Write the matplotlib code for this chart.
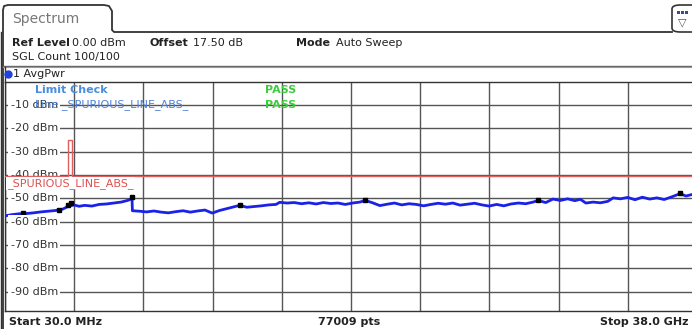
import matplotlib.pyplot as plt
import matplotlib.patches as mpatches
from matplotlib.lines import Line2D
import numpy as np

W, H = 692, 329

# Trace 1 (AvgPwr): frequency in GHz, level in dBm
trace_freq = [
    0.03, 0.4, 0.8, 1.2, 1.6, 2.0, 2.4, 2.8, 3.2, 3.5, 3.8, 4.1, 4.4, 4.8,
    5.2, 5.6, 6.0, 6.4, 6.8, 7.0, 7.02, 7.4, 7.8, 8.2, 8.6, 9.0, 9.4, 9.8,
    10.2, 10.6, 11.0, 11.4, 11.8, 12.2, 12.6, 12.9, 13.3, 13.7, 14.1, 14.5,
    14.9, 15.1, 15.5, 15.9, 16.3, 16.7, 17.1, 17.5, 17.9, 18.3, 18.7, 19.1,
    19.5, 19.8, 20.2, 20.6, 21.0, 21.4, 21.8, 22.2, 22.6, 23.0, 23.4, 23.8,
    24.2, 24.6, 25.0, 25.4, 25.8, 26.2, 26.6, 27.0, 27.4, 27.8, 28.2, 28.6,
    29.0, 29.3, 29.7, 30.1, 30.5, 30.9, 31.3, 31.6, 31.9, 32.3, 32.7, 33.1,
    33.4, 33.8, 34.2, 34.6, 35.0, 35.4, 35.8, 36.2, 36.6, 37.07, 37.4, 37.7,
    38.0,
]
trace_level = [
    -57.5, -57.0, -56.6, -56.5, -56.2, -55.8, -55.5, -55.2, -54.6, -53.4,
    -52.8, -53.4, -53.0, -53.3, -52.6, -52.4, -52.0, -51.6, -50.8, -50.0,
    -55.3, -55.5, -55.8, -55.4, -55.9, -56.2, -55.7, -55.3, -55.9, -55.4,
    -55.0, -56.3, -55.2, -54.4, -53.6, -53.0, -53.8, -53.5, -53.2, -52.8,
    -52.6, -51.7, -52.0, -51.8, -52.3, -51.9, -52.4, -51.8, -52.2, -52.0,
    -52.6, -52.0, -51.6, -50.9, -51.9, -53.1, -52.5, -52.0, -52.8, -52.3,
    -52.6, -53.2, -52.6, -52.1, -52.5, -52.0, -52.9, -52.5, -52.1, -52.8,
    -53.3, -52.6, -53.2, -52.4, -52.0, -52.3, -51.6, -50.9, -51.8, -50.3,
    -50.9, -50.2, -51.0, -50.4, -52.0, -51.6, -51.9, -51.3, -49.8, -50.2,
    -49.6, -50.6, -49.5, -50.3, -49.8, -50.5, -49.4, -48.0, -49.0, -48.4,
    -48.7,
]

# peak markers
marker_freq = [1.02, 2.99, 3.49, 3.65, 7.0, 12.9, 19.8, 29.3, 37.07]
marker_level = [-56.1, -55.1, -53.0, -52.1, -49.6, -53.0, -50.9, -50.9, -47.9]

# limit line _SPURIOUS_LINE_ABS_
limit_freq = [0.03, 3.47, 3.47, 3.72, 3.72, 38.0]
limit_level = [-40.3, -40.3, -25.2, -25.2, -40.3, -40.3]

level_ticks = [-10, -20, -30, -40, -50, -60, -70, -80, -90]
freq_start, freq_stop = 0.03, 38.0
level_bottom, level_top = -98.2, 0.0

plt.rcParams['font.family'] = ['DejaVu Sans']

fig = plt.figure(figsize=(W / 100, H / 100), dpi=100)
fig.patch.set_facecolor('white')


def fx(x):
    return x / W


def fy(y):
    return 1 - y / H


def ftext(x, y, s, **kw):
    kw.setdefault('va', 'center')
    kw.setdefault('ha', 'left')
    kw.setdefault('fontsize', 8)
    kw.setdefault('color', '#222222')
    fig.text(fx(x), fy(y), s, **kw)


def fline(xs, ys, **kw):
    fig.add_artist(Line2D([fx(v) for v in xs], [fy(v) for v in ys],
                          transform=fig.transFigure, **kw))


# plot area
ax_top, ax_bot = 81.5, 311
ax = fig.add_axes([fx(5), fy(ax_bot), 692 / W, (ax_bot - ax_top) / H])
ax.set_xlim(freq_start, freq_stop)
ax.set_ylim(level_bottom, level_top)
ax.set_xticks(np.linspace(freq_start, freq_stop, 11))
ax.set_yticks(level_ticks)
ax.grid(True, color='#555555', linewidth=1.0)
ax.tick_params(length=0, labelleft=False, labelbottom=False)
for sp in ax.spines.values():
    sp.set_color('#333333')
    sp.set_linewidth(1.0)

ax.plot(limit_freq, limit_level, color='#e06060', linewidth=1.0, zorder=6.5)
ax.plot(trace_freq, trace_level, color='#1a22e8', linewidth=2.0, zorder=4)
ax.plot(marker_freq, marker_level, linestyle='none', marker='s',
        markersize=3.2, color='black', zorder=5)

ytr = ax.get_yaxis_transform()
for lvl in level_ticks:
    ax.text(0.008, lvl, f"{lvl} dBm", transform=ytr, fontsize=8,
            color='#333333', va='center', ha='left', zorder=6,
            bbox=dict(facecolor='white', edgecolor='none', pad=1.5))

ax.text(0.003, -43.6, "_SPURIOUS_LINE_ABS_", transform=ytr, fontsize=8,
        color='#e05050', va='center', ha='left', zorder=7,
        bbox=dict(facecolor='white', edgecolor='none', pad=1.0))

ax.text(0.043, -3.5, "Limit Check", transform=ytr, fontsize=8,
        fontweight='bold', color='#4a8ee0', va='center', zorder=7)
ax.text(0.375, -3.5, "PASS", transform=ytr, fontsize=8,
        fontweight='bold', color='#3ccc3c', va='center', zorder=7)
ax.text(0.043, -10, "Line _SPURIOUS_LINE_ABS_", transform=ytr, fontsize=8,
        color='#4a80d8', va='center', zorder=7)
ax.text(0.375, -10, "PASS", transform=ytr, fontsize=8,
        fontweight='bold', color='#3ccc3c', va='center', zorder=7)

# tab "Spectrum" and frame
tab = [(3, 329), (3, 10), (4, 6), (8, 5), (104, 5), (109, 6), (112, 11),
       (112, 30), (114, 32), (672, 32)]
fline([p[0] for p in tab], [p[1] for p in tab], color='#333333', linewidth=1.3)
fline([1, 1], [32, 329], color='#333333', linewidth=1.0)
ftext(12, 19, "Spectrum", fontsize=10, color='#777777')

icon = mpatches.FancyBboxPatch((fx(672), fy(32)), fx(30), 27 / H,
                               boxstyle="round,pad=0,rounding_size=0.012",
                               transform=fig.transFigure, facecolor='white',
                               edgecolor='#333333', linewidth=1.2)
fig.add_artist(icon)
for bx in (677, 681, 685):
    fig.add_artist(mpatches.Rectangle((fx(bx), fy(14)), fx(3), 3 / H,
                                      transform=fig.transFigure,
                                      facecolor='#3a4a8a', edgecolor='none'))
ftext(682, 22, "\u25bd", fontsize=8, color='#555555', ha='center')

# header
ftext(12, 43, "Ref Level", fontweight='bold')
ftext(72, 43, "0.00 dBm")
ftext(149, 43, "Offset", fontweight='bold')
ftext(193, 43, "17.50 dB")
ftext(296, 43, "Mode", fontweight='bold')
ftext(336, 43, "Auto Sweep")
ftext(12, 57, "SGL Count 100/100")

fline([3, 692], [65.5, 65.5], color='#666666', linewidth=1.0)
fline([3, 692], [67, 67], color='#999999', linewidth=0.8)
fline([5, 5], [67, 82], color='#333333', linewidth=1.0)
fline([8], [74], marker='o', markersize=5, color='#2040e0', linestyle='none')
ftext(13, 74, "1 AvgPwr")

# footer
ftext(9, 322, "Start 30.0 MHz", fontweight='bold')
ftext(349, 322, "77009 pts", fontweight='bold', ha='center')
ftext(688, 322, "Stop 38.0 GHz", fontweight='bold', ha='right')

fig.savefig('out.png', dpi=100)
